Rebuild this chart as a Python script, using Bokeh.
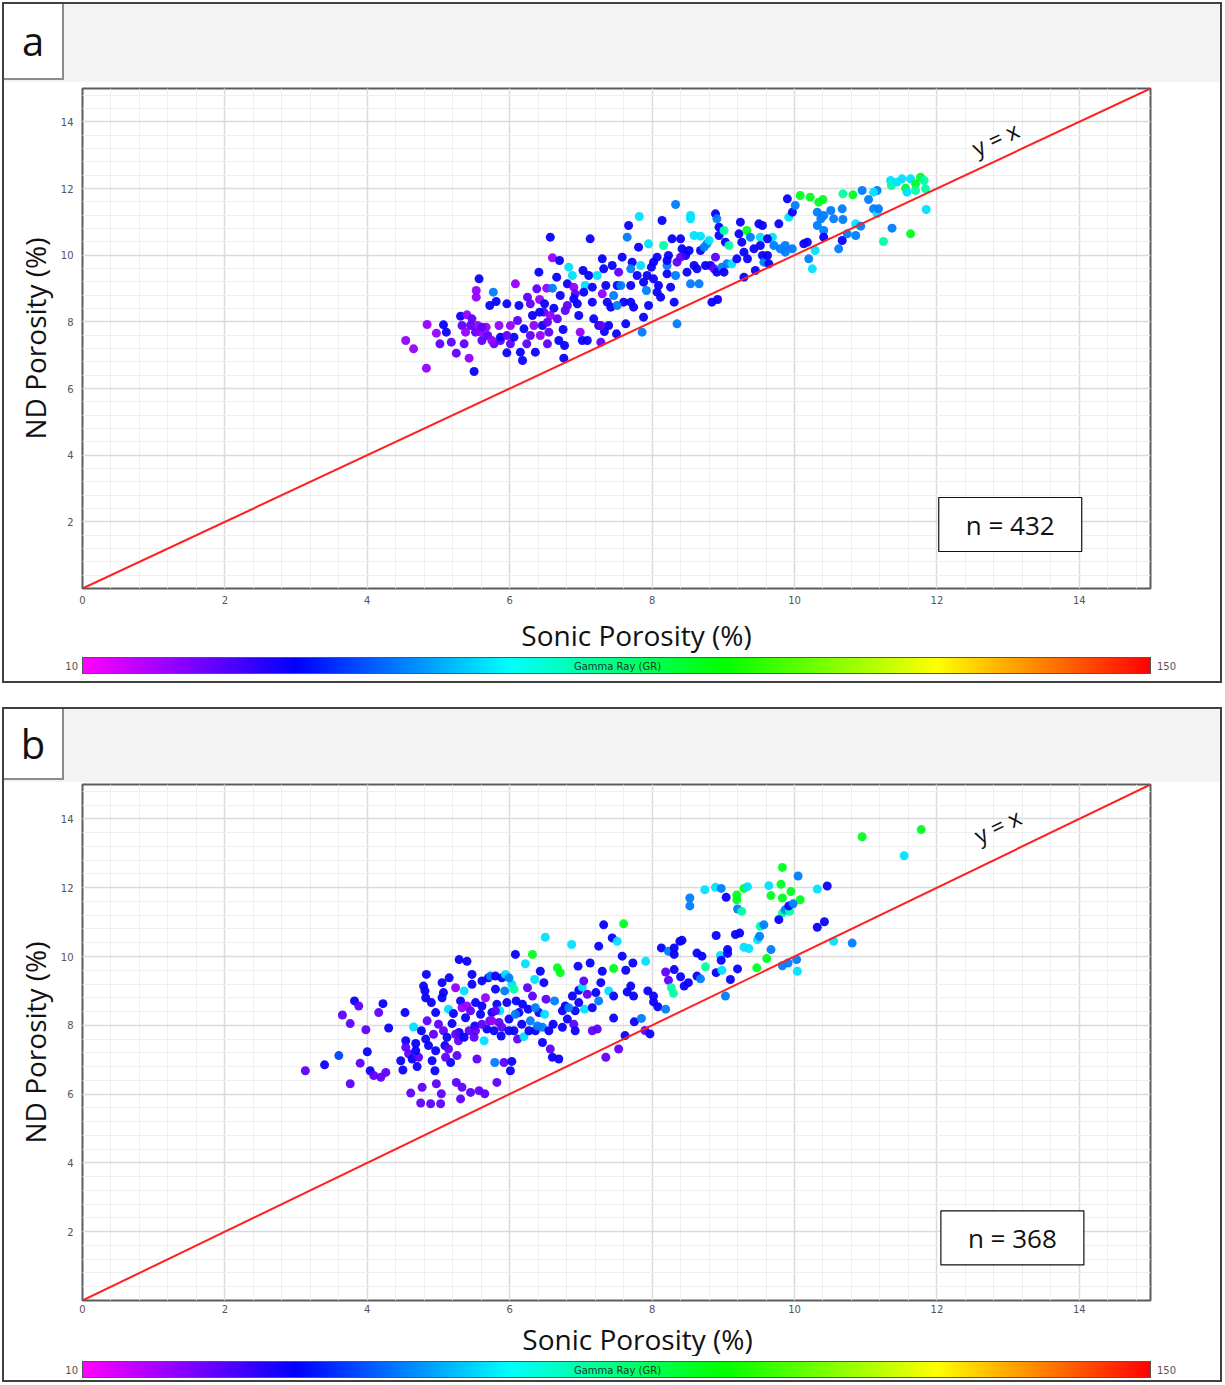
import numpy as np
from bokeh.plotting import figure
from bokeh.models import (Range1d, FixedTicker, LinearColorMapper, ColumnDataSource, Div,
                          LinearAxis)
from bokeh.layouts import column
from bokeh.transform import transform
from bokeh.core.properties import value
from bokeh.embed import file_html
from bokeh.resources import INLINE

# ---------------- data ----------------
# Panel a : sonic porosity (x), ND porosity (y), gamma ray (colour)
sonic_a = [
    4.54, 4.65, 4.83, 4.84, 4.97, 5.02, 5.07, 5.11, 5.18, 5.25,
    5.31, 5.36, 5.40, 5.43, 5.50, 5.53, 5.53, 5.57, 5.45, 5.52,
    5.59, 5.61, 5.67, 5.72, 5.77, 5.81, 5.78, 5.85, 5.87, 5.96,
    5.96, 6.01, 6.06, 6.08, 6.11, 6.13, 6.15, 6.18, 6.20, 6.24,
    6.25, 6.29, 6.32, 6.36, 6.38, 6.41, 6.42, 6.43, 6.46, 6.48,
    6.49, 6.52, 6.53, 6.55, 6.57, 6.60, 6.60, 6.62, 6.66, 6.67,
    6.69, 6.70, 6.71, 6.75, 6.76, 6.77, 6.78, 6.81, 6.83, 6.88,
    6.90, 6.92, 6.95, 6.97, 6.99, 7.02, 7.03, 7.06, 7.09, 7.11,
    7.13, 7.16, 7.18, 7.23, 7.25, 7.28, 7.30, 7.30, 7.33, 7.35,
    7.39, 7.42, 7.44, 7.46, 7.50, 7.51, 7.53, 7.56, 7.58, 7.60,
    7.63, 7.65, 7.67, 7.70, 7.72, 7.74, 7.79, 7.81, 7.84, 7.86,
    7.88, 7.92, 7.95, 7.95, 7.99, 8.02, 8.07, 8.09, 8.12, 8.16,
    8.21, 8.23, 8.28, 8.33, 8.35, 8.26, 8.31, 7.82,
    8.33, 8.14, 8.40, 8.42, 8.47, 8.52, 8.35, 8.49, 8.54, 8.63,
    8.66, 8.68, 8.54, 8.54, 8.59, 8.68, 8.75, 8.77, 8.80, 8.82,
    8.87, 8.89, 8.91, 8.89, 8.94, 8.94, 8.91, 8.98, 9.01, 9.03,
    9.08, 9.01, 9.05, 9.12, 9.19, 9.22, 9.24, 9.26, 9.29, 9.33,
    9.34, 9.38, 9.43, 9.45, 9.50, 9.52, 9.55, 9.52, 9.55, 9.57,
    9.62, 9.64, 9.69, 9.71, 9.78, 9.87, 9.87, 9.92, 9.90, 9.97,
    10.01, 9.97, 10.08, 10.13, 10.18, 10.22, 10.20, 10.25, 10.29, 10.32,
    10.34, 10.40, 10.37, 10.41, 10.41, 10.41, 10.51, 10.62, 10.67, 10.68,
    10.68, 10.67, 10.74, 10.82, 10.86, 10.86, 10.93, 10.95, 11.04, 11.11,
    11.16, 11.16, 11.18, 11.25, 11.35, 11.36, 11.37, 11.51, 11.56, 11.58,
    11.63, 11.63, 11.70, 11.70, 11.77, 11.82, 11.84, 11.85, 8.84, 8.92,
    5.33, 5.38, 5.47, 5.55, 5.61, 5.69, 5.75, 5.87, 5.96, 6.01,
    6.29, 6.34, 6.42, 6.57, 6.53, 6.81, 6.90, 7.04, 7.16, 7.28,
    7.37, 7.32, 7.51, 7.70, 7.70, 7.93, 8.02, 8.07, 8.21, 7.88,
    8.21, 8.40, 8.59, 8.73, 9.29, 9.62, 9.80, 10.32, 10.55, 11.11,
    11.44,
]
nd_a = [
    7.44, 7.19, 6.61, 7.92, 7.66, 7.34, 7.91, 7.69, 7.39, 7.06,
    8.17, 7.34, 8.21, 6.91, 6.51, 8.94, 8.74, 9.29, 7.89, 7.69,
    7.69, 7.44, 7.84, 8.49, 8.89, 8.61, 7.34, 7.89, 7.44, 8.54,
    7.07, 7.34, 7.54, 9.14, 8.04, 8.49, 7.09, 6.84, 7.79, 7.34,
    8.74, 8.54, 8.19, 7.09, 8.99, 9.49, 8.67, 7.59, 7.89, 8.29,
    8.54, 9.01, 7.34, 7.69, 10.54, 9.92, 9.01, 8.41, 9.34, 8.09,
    7.44, 9.84, 8.79, 7.77, 6.91, 7.29, 8.34, 9.14, 9.64, 9.39,
    9.04, 8.84, 8.54, 8.19, 7.69, 7.44, 9.54, 9.09, 7.44, 9.39,
    10.49, 8.59, 8.09, 9.39, 7.89, 7.39, 8.84, 9.89, 7.71, 9.09,
    7.89, 8.44, 9.69, 8.79, 7.64, 9.09, 9.49, 9.09, 9.94, 8.59,
    7.94, 10.54, 10.89, 9.09, 9.79, 8.44, 9.39, 10.24, 9.69, 7.69,
    8.14, 8.94, 10.34, 8.49, 9.64, 9.29, 9.94, 9.09, 8.74, 10.29,
    9.44, 9.99, 10.49, 9.39, 7.94, 9.04, 8.59, 11.16,
    11.52, 11.04, 10.49, 10.19, 9.99, 10.14, 9.79, 9.49, 9.14, 9.59,
    9.14, 10.14, 11.19, 11.09, 10.59, 10.57, 9.69, 10.34, 10.44, 9.69,
    9.59, 11.24, 11.09, 9.94, 10.84, 10.59, 9.49, 9.64, 10.74, 10.39,
    10.29, 9.49, 9.74, 9.74, 9.89, 10.64, 10.99, 10.39, 9.34, 10.74,
    9.89, 10.54, 10.19, 9.54, 10.94, 10.54, 10.89, 10.29, 9.99, 9.79,
    9.99, 9.74, 10.54, 10.29, 10.94, 10.29, 10.09, 11.14, 11.69, 11.29,
    11.49, 10.19, 11.79, 10.34, 10.39, 11.74, 9.89, 9.59, 10.14, 11.29,
    11.59, 11.67, 11.09, 10.74, 11.19, 10.54, 11.34, 10.19, 11.39, 11.84,
    11.07, 10.44, 10.64, 11.81, 10.94, 10.59, 10.87, 11.94, 11.67, 11.39,
    11.94, 11.24, 11.39, 10.41, 12.24, 12.09, 10.81, 12.29, 12.01, 11.89,
    12.29, 10.64, 12.14, 11.94, 12.34, 12.24, 11.99, 11.37, 8.59, 8.67,
    7.89, 7.69, 8.09, 7.89, 7.84, 7.59, 7.44, 7.54, 7.59, 7.89,
    7.59, 7.89, 8.29, 8.19, 7.99, 8.49, 8.69, 8.89, 9.04, 7.89,
    8.59, 9.59, 8.49, 8.59, 9.59, 9.39, 9.79, 8.89, 9.69, 9.19,
    9.84, 9.94, 9.69, 10.24, 10.09, 10.49, 10.19, 10.89, 11.09, 11.89,
    12.19,
]
gr_a = [
    22, 22, 22, 22, 22, 28, 37, 37, 28, 28,
    37, 28, 22, 22, 37, 22, 22, 37, 28, 28,
    22, 28, 22, 37, 52, 37, 28, 22, 28, 37,
    37, 28, 37, 22, 28, 37, 37, 37, 37, 28,
    28, 28, 37, 37, 28, 37, 22, 22, 37, 28,
    37, 22, 28, 28, 37, 22, 52, 37, 37, 28,
    37, 37, 37, 37, 37, 37, 28, 37, 63, 63,
    22, 28, 37, 37, 22, 37, 37, 63, 37, 37,
    37, 37, 37, 63, 37, 28, 22, 37, 37, 37,
    37, 37, 37, 52, 37, 37, 28, 52, 37, 37,
    37, 52, 37, 37, 37, 37, 37, 37, 63, 52,
    37, 52, 63, 37, 37, 37, 37, 37, 37, 76,
    37, 37, 37, 52, 52, 37, 37, 63,
    52, 37, 37, 37, 37, 37, 28, 37, 52, 37,
    52, 37, 63, 63, 63, 63, 37, 52, 63, 37,
    28, 37, 52, 28, 37, 37, 37, 52, 76, 37,
    76, 37, 52, 63, 37, 37, 37, 37, 37, 90,
    37, 52, 37, 37, 37, 63, 37, 37, 37, 52,
    37, 37, 63, 52, 37, 52, 52, 63, 37, 37,
    52, 52, 90, 37, 37, 90, 52, 63, 63, 52,
    90, 90, 52, 52, 52, 37, 52, 52, 52, 76,
    52, 37, 52, 90, 63, 52, 52, 52, 52, 52,
    52, 63, 52, 76, 63, 76, 52, 63, 90, 63,
    63, 90, 90, 76, 90, 76, 76, 63, 37, 37,
    28, 22, 28, 22, 28, 28, 22, 37, 28, 22,
    28, 22, 37, 22, 28, 28, 37, 37, 37, 28,
    37, 37, 52, 37, 52, 37, 37, 37, 52, 37,
    37, 28, 37, 52, 37, 37, 52, 52, 52, 63,
    63,
]

# Panel b
sonic_b = [
    3.13, 3.40, 3.60, 3.65, 3.76, 3.76, 3.82, 3.88, 3.90, 3.98,
    4.00, 4.04, 4.09, 4.16, 4.19, 4.22, 4.26, 4.30, 4.47, 4.50,
    4.53, 4.54, 4.58, 4.61, 4.63, 4.65, 4.68, 4.70, 4.72, 4.75,
    4.76, 4.77, 4.79, 4.81, 4.82, 4.83, 4.84, 4.86, 4.89, 4.90,
    4.91, 4.93, 4.95, 4.97, 5.00, 5.03, 5.04, 5.05, 5.07, 5.07,
    5.09, 5.12, 5.14, 5.14, 5.15, 5.17, 5.19, 5.21, 5.24, 5.25,
    5.26, 5.28, 5.29, 5.29, 5.31, 5.31, 5.33, 5.36, 5.38, 5.40,
    5.40, 5.43, 5.45, 5.45, 5.47, 5.50, 5.51, 5.52, 5.54, 5.57,
    5.59, 5.61, 5.64, 5.65, 5.66, 5.68, 5.70, 5.72, 5.73, 5.75,
    5.78, 5.79, 5.80, 5.82, 5.82, 5.85, 5.86, 5.88, 5.89, 5.92,
    5.93, 5.94, 5.96, 5.99, 6.01, 6.03, 6.03, 6.06, 6.06, 6.08,
    6.09, 6.11, 6.13, 6.17, 6.20, 6.22, 6.25, 6.26, 6.29, 6.32,
    6.32, 6.35, 6.36, 6.39, 6.41, 6.43, 6.46, 6.48, 6.49, 6.50,
    6.51, 6.57, 6.60, 6.61, 6.63, 6.67, 6.69, 6.71, 6.74, 6.78,
    6.81, 6.87, 6.88, 6.90, 6.92, 6.92, 6.96, 6.97, 7.02, 7.04,
    7.05, 7.09, 7.13, 7.16, 7.21, 7.23, 7.25, 7.25, 7.28, 7.30,
    7.35, 7.39, 7.44, 7.46, 7.46, 7.46, 7.51, 7.53, 7.58,
    7.75, 7.90, 7.97, 7.85, 7.62,
    7.60, 7.32, 7.73, 7.63, 7.91, 7.70, 7.65, 7.74, 7.94, 8.02,
    8.02, 8.08, 8.19, 8.13, 8.23, 8.31, 8.31, 8.39, 8.42, 8.31,
    8.19, 8.23, 8.27, 8.30, 8.40, 8.45, 8.51, 8.53, 8.53, 8.63,
    8.70, 8.63, 8.68, 8.75, 8.74, 8.89, 8.97, 9.04, 8.90, 8.90,
    8.96, 8.97, 8.98, 9.06, 9.06, 9.10, 9.03, 9.17, 9.23, 9.19,
    9.19, 9.20, 9.26, 9.29, 9.34, 9.20, 9.29, 9.36, 9.48, 9.51,
    9.52, 9.57, 9.47, 9.61, 9.67, 9.64, 9.67, 9.83, 9.81, 9.83,
    9.95, 10.08, 9.83, 9.87, 9.93, 9.92, 9.98, 9.78, 10.05, 9.83,
    9.91, 10.03, 10.04, 10.32, 10.42, 10.32, 10.46, 10.55, 10.81, 10.95,
    11.54, 11.78,
    4.96, 5.33, 5.52, 5.61, 5.75, 5.89, 5.99, 6.08, 6.27, 6.46,
    6.55, 5.24, 5.36, 4.96, 5.10, 4.54, 4.68, 5.80, 5.61, 6.18,
    6.36, 6.74, 6.83, 6.97, 7.16, 5.99, 5.80, 5.05, 4.82, 5.47,
]
nd_b = [
    6.68, 6.85, 7.12, 8.30, 8.05, 6.30, 8.71, 8.56, 6.90, 7.87,
    7.23, 6.68, 6.54, 8.37, 6.49, 8.63, 6.63, 7.92, 6.97, 6.70,
    8.37, 7.55, 7.17, 6.03, 7.02, 7.95, 7.47, 6.80, 7.07, 5.74,
    7.84, 6.20, 9.14, 9.00, 7.60, 9.48, 8.13, 7.41, 5.72, 8.66,
    6.97, 7.74, 6.68, 6.30, 8.03, 5.72, 6.01, 9.24, 8.95, 7.84,
    7.41, 7.65, 8.47, 7.31, 9.38, 6.92, 8.05, 8.34, 9.09, 6.34,
    7.12, 7.55, 9.91, 7.79, 8.71, 5.86, 6.20, 9.00, 8.22, 9.86,
    8.56, 7.84, 8.42, 6.05, 9.19, 7.65, 7.98, 8.66, 7.02, 6.10,
    8.32, 9.29, 7.55, 6.01, 8.80, 7.89, 9.38, 8.13, 9.43, 8.37,
    7.84, 6.92, 9.05, 6.34, 8.61, 8.08, 8.42, 7.69, 9.38, 6.92,
    9.00, 9.48, 8.66, 8.18, 6.68, 6.95, 9.19, 9.05, 7.84, 10.06,
    8.71, 7.60, 8.37, 8.03, 7.67, 9.79, 9.09, 8.47, 8.13, 8.85,
    10.06, 9.33, 7.84, 7.98, 8.37, 9.57, 7.50, 9.24, 8.32, 10.56,
    8.76, 7.31, 7.07, 8.03, 8.71, 9.67, 7.02, 9.53, 8.42, 8.56,
    8.18, 10.35, 8.85, 8.03, 8.42, 7.84, 9.72, 9.02, 9.11, 9.29,
    8.47, 8.90, 9.81, 7.84, 8.95, 7.89, 8.71, 10.30, 9.24, 9.57,
    7.07, 9.00, 10.54, 9.65, 8.85, 8.21, 10.44, 7.31, 10.01,
    8.10, 7.85, 7.75, 8.20, 7.70,
    10.95, 10.92, 9.81, 9.60, 9.86, 9.14, 8.97, 8.85, 9.00, 8.85,
    8.68, 8.54, 8.47, 10.25, 10.15, 10.25, 10.06, 10.44, 10.47, 9.62,
    9.55, 9.31, 9.09, 8.93, 9.41, 9.14, 9.24, 11.70, 11.47, 10.10,
    10.01, 9.43, 9.35, 9.70, 11.94, 12.01, 11.98, 11.72, 10.61, 9.53,
    10.03, 9.89, 9.60, 10.20, 10.09, 9.33, 8.85, 10.64, 10.68, 11.79,
    11.65, 11.38, 11.31, 11.98, 12.03, 9.64, 10.27, 10.23, 10.49, 10.59,
    10.88, 10.92, 9.67, 9.94, 10.20, 12.06, 11.77, 12.59, 12.10, 11.70,
    11.89, 11.65, 11.26, 11.36, 11.31, 11.47, 11.53, 11.07, 12.34, 9.73,
    9.81, 9.91, 9.57, 10.85, 11.01, 11.96, 12.05, 10.44, 10.39, 13.48,
    12.93, 13.69,
    8.37, 8.51, 7.84, 8.03, 8.13, 7.94, 7.84, 8.32, 7.84, 7.94,
    7.84, 7.74, 7.65, 7.26, 7.07, 7.36, 7.26, 8.42, 8.56, 8.61,
    8.51, 7.94, 8.51, 8.66, 8.51, 9.38, 9.43, 8.80, 8.80, 9.48,
]
gr_b = [
    28, 37, 45, 28, 28, 28, 37, 28, 28, 28,
    37, 37, 28, 28, 28, 37, 28, 37, 37, 37,
    37, 37, 28, 28, 37, 63, 37, 37, 28, 28,
    37, 28, 37, 37, 37, 37, 28, 37, 28, 37,
    37, 28, 37, 28, 28, 28, 28, 37, 37, 28,
    37, 37, 63, 28, 37, 37, 37, 37, 22, 28,
    28, 28, 37, 37, 37, 28, 28, 63, 37, 37,
    22, 28, 28, 28, 37, 28, 37, 37, 28, 28,
    37, 37, 63, 28, 22, 37, 37, 28, 52, 37,
    37, 52, 37, 28, 37, 28, 63, 37, 37, 28,
    52, 63, 37, 37, 37, 37, 63, 76, 37, 37,
    37, 28, 37, 37, 63, 63, 28, 37, 52, 28,
    90, 63, 37, 52, 37, 37, 37, 37, 63, 63,
    28, 28, 37, 37, 52, 90, 37, 90, 37, 37,
    37, 63, 37, 28, 37, 37, 37, 37, 63, 28,
    63, 28, 37, 28, 37, 28, 52, 37, 37, 37,
    28, 63, 37, 90, 37, 37, 63, 28, 37,
    37, 28, 37, 52, 37,
    90, 37, 37, 37, 63, 37, 37, 37, 37, 37,
    37, 37, 52, 37, 52, 37, 37, 37, 37, 37,
    28, 28, 76, 76, 37, 37, 37, 52, 52, 37,
    37, 37, 52, 76, 63, 63, 52, 37, 37, 37,
    63, 37, 63, 37, 37, 37, 52, 37, 37, 90,
    90, 52, 76, 90, 63, 37, 63, 63, 63, 52,
    76, 52, 90, 90, 52, 63, 90, 90, 90, 90,
    90, 90, 76, 52, 76, 37, 52, 37, 52, 52,
    52, 52, 63, 37, 37, 63, 37, 63, 52, 90,
    63, 90,
    37, 22, 28, 28, 22, 28, 37, 52, 37, 52,
    37, 28, 37, 37, 28, 28, 37, 28, 37, 37,
    52, 37, 52, 37, 37, 52, 37, 37, 37, 37,
]

n_a = 432
n_b = 368
GR_LOW, GR_HIGH = 10, 150
AXIS_MAX = 15
X_TICKS = [0, 2, 4, 6, 8, 10, 12, 14]
Y_TICKS = [2, 4, 6, 8, 10, 12, 14]
MINOR_STEP = 0.4
X_TITLE = "Sonic Porosity (%)"
Y_TITLE = "ND Porosity (%)"
CBAR_TITLE = "Gamma Ray (GR)"

# ---------------- style ----------------
FONT = "Open Sans"
TICK_FONT = "DejaVu Sans"
ANCHORS = [(255, 0, 255), (0, 0, 255), (0, 255, 255), (0, 255, 0), (255, 255, 0), (255, 0, 0)]


def make_palette(n=256):
    pal = []
    for i in range(n):
        t = i / (n - 1) * (len(ANCHORS) - 1)
        k = min(int(t), len(ANCHORS) - 2)
        f = t - k
        c = [round(ANCHORS[k][j] * (1 - f) + ANCHORS[k + 1][j] * f) for j in range(3)]
        pal.append("#%02x%02x%02x" % tuple(c))
    return pal


MAPPER = LinearColorMapper(palette=make_palette(), low=GR_LOW, high=GR_HIGH)

INNER = 1216          # panel content width (2px border each side -> 1220)
FRAME_L = 78
FRAME_W = 1068
FRAME_R = INNER - FRAME_L - FRAME_W
BAR_W = 1071
BAR_H = 19
LBOX_W = 60
MINOR = [round(i * MINOR_STEP, 2) for i in range(int(AXIS_MAX / MINOR_STEP) + 1)]


def header(letter, h):
    html = (
        f'<div style="position:relative;width:{INNER}px;height:{h}px;background:#f3f3f3;overflow:hidden;">'
        f'<div style="position:absolute;left:0;top:0;width:{LBOX_W}px;height:{h - 2}px;background:#ffffff;'
        f'border-right:2px solid #8c8c8c;border-bottom:2px solid #8c8c8c;'
        f"font-family:'Open Sans';font-size:40px;line-height:{h - 4}px;text-align:center;"
        f'color:#111111;">{letter}</div></div>'
    )
    return Div(text=html, width=INNER, height=h, margin=0)


def cbar(h, bar_top):
    grad = ", ".join("#%02x%02x%02x" % c for c in ANCHORS)
    lab = f"position:absolute;top:{bar_top}px;height:{BAR_H}px;line-height:{BAR_H}px;"
    html = (
        f"<div style=\"position:relative;width:{INNER}px;height:{h}px;background:#ffffff;"
        f"font-family:'DejaVu Sans';font-size:10px;overflow:hidden;\">"
        f'<div style="position:absolute;left:{FRAME_L}px;top:{bar_top}px;width:{BAR_W - 2}px;'
        f'height:{BAR_H - 2}px;border:1px solid #555555;'
        f'background:linear-gradient(to right, {grad});"></div>'
        f'<div style="{lab}right:{INNER - FRAME_L + 4}px;color:#555555;">{GR_LOW}</div>'
        f'<div style="{lab}left:{FRAME_L + BAR_W + 4}px;color:#555555;">{GR_HIGH}</div>'
        f'<div style="{lab}left:{FRAME_L}px;width:{BAR_W}px;text-align:center;color:#1e3a1e;">'
        f'{CBAR_TITLE}</div></div>'
    )
    return Div(text=html, width=INNER, height=h, margin=0)


def xtitle(h, center_from_top, x_center_px):
    # a strip under the plot that shares its x scale; the title sits right of centre as in the original
    p = figure(width=INNER, height=h, x_range=Range1d(0, AXIS_MAX), y_range=Range1d(0, h),
               output_backend="svg", toolbar_location=None,
               min_border_left=FRAME_L, min_border_right=FRAME_R,
               min_border_top=0, min_border_bottom=0,
               x_axis_location=None, y_axis_location=None)
    p.grid.visible = False
    p.outline_line_color = None
    p.background_fill_color = "white"
    p.border_fill_color = "white"
    p.text(x=[x_center_px / (FRAME_W / AXIS_MAX)], y=[h - center_from_top], text=[X_TITLE],
           text_font=value(FONT), text_font_size="28px", text_color="#111111",
           text_align="center", text_baseline="middle")
    return p


def title_axis(label, standoff):
    ax = LinearAxis(ticker=FixedTicker(ticks=[]), axis_label=label)
    ax.axis_line_color = None
    ax.major_tick_line_color = None
    ax.minor_tick_line_color = None
    ax.major_tick_out = 0
    ax.minor_tick_out = 0
    ax.major_label_standoff = 0
    ax.axis_label_standoff = standoff
    ax.axis_label_text_font = FONT
    ax.axis_label_text_font_style = "normal"
    ax.axis_label_text_font_size = "28px"
    ax.axis_label_text_color = "#111111"
    return ax


def main_plot(xs, ys, grs, n, frame_h, top, bottom, x_std, yx_pos, n_pos):
    h = top + frame_h + bottom
    p = figure(width=INNER, height=h, x_range=Range1d(0, AXIS_MAX), y_range=Range1d(0, AXIS_MAX),
               output_backend="svg", toolbar_location=None,
               min_border_left=FRAME_L, min_border_right=FRAME_R,
               min_border_top=top, min_border_bottom=bottom)
    p.background_fill_color = "white"
    p.border_fill_color = "white"
    p.outline_line_color = "#5c5c5c"
    p.outline_line_width = 2

    p.xaxis.ticker = FixedTicker(ticks=X_TICKS, minor_ticks=MINOR)
    p.yaxis.ticker = FixedTicker(ticks=Y_TICKS, minor_ticks=MINOR)
    for ax in (p.xaxis[0], p.yaxis[0]):
        ax.axis_line_color = None
        ax.major_tick_line_color = None
        ax.minor_tick_line_color = None
        ax.major_tick_out = 0
        ax.minor_tick_out = 0
        ax.major_label_text_font = TICK_FONT
        ax.major_label_text_font_size = "10px"
        ax.major_label_text_color = "#555555"
    p.xaxis.major_label_standoff = x_std
    p.yaxis.major_label_standoff = 9
    p.add_layout(title_axis(Y_TITLE, 4), "left")

    for g in (p.xgrid[0], p.ygrid[0]):
        g.grid_line_color = "#dadada"
        g.grid_line_width = 1.5
        g.minor_grid_line_color = "#efefef"
        g.minor_grid_line_width = 1

    src = ColumnDataSource(dict(x=xs, y=ys, gr=grs))
    p.scatter("x", "y", source=src, size=9, line_color=None,
              fill_color=transform("gr", MAPPER), fill_alpha=0.95)

    p.line([0, AXIS_MAX], [0, AXIS_MAX], line_color="#ff2020", line_width=2)
    ang = float(np.arctan2(frame_h, FRAME_W))
    p.text(x=[yx_pos[0]], y=[yx_pos[1]], text=["y = x"], angle=ang,
           text_font=value(FONT), text_font_size="23px", text_align="center",
           text_baseline="middle", text_color="#111111")

    p.rect(x=[n_pos[0]], y=[n_pos[1]], width=143, height=54, width_units="screen",
           height_units="screen", fill_color="white", line_color="#111111", line_width=1.2)
    p.text(x=[n_pos[0]], y=[n_pos[1]], text=["n = %d" % n], text_font=value(FONT),
           text_font_size="26px", text_align="center", text_baseline="middle",
           text_color="#111111")
    return p


BORDER = {"border": "2px solid #404040"}

panel_a = column(
    header("a", 78),
    main_plot(sonic_a, nd_a, gr_a, n_a, 500, 6, 24, 7, (12.82, 13.5), (13.03, 1.92)),
    xtitle(44, 22, 554),
    cbar(25, 1),
    styles=BORDER,
)
panel_b = column(
    header("b", 73),
    main_plot(sonic_b, nd_b, gr_b, n_b, 516, 2, 17, 4, (12.85, 13.8), (13.06, 1.82)),
    xtitle(39, 21, 555),
    cbar(24, 5),
    styles=BORDER,
)
page = column(panel_a, panel_b, spacing=24, margin=(2, 0, 0, 2))

open("out.html", "w").write(file_html(page, INLINE))
